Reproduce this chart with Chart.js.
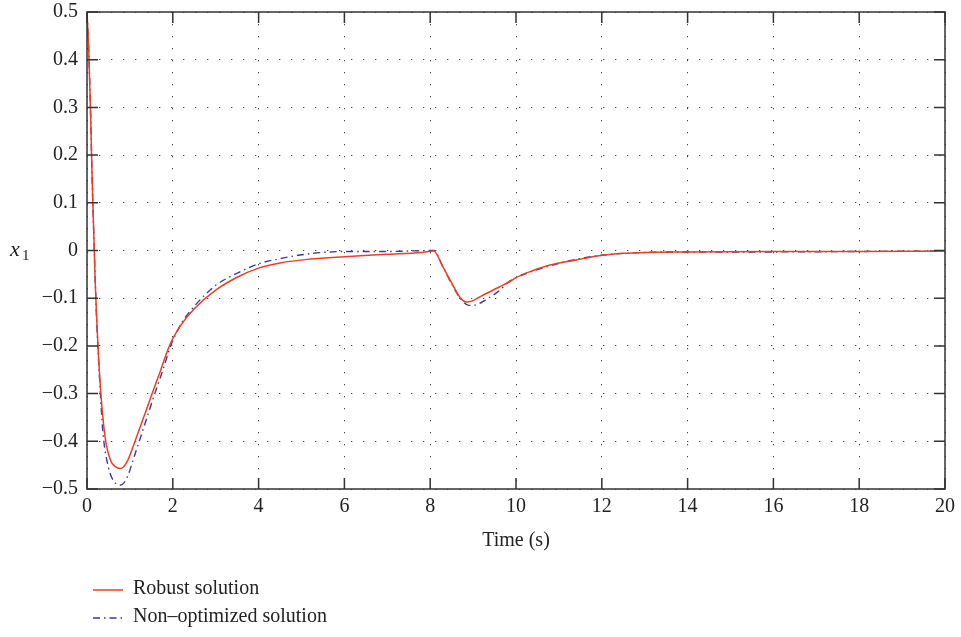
<!DOCTYPE html>
<html>
<head>
<meta charset="utf-8">
<script src="https://cdn.jsdelivr.net/npm/chart.js@4.4.0/dist/chart.umd.min.js"></script>
<style>
  html, body { margin: 0; padding: 0; background: #fff; }
  #wrap { width: 961px; height: 637px; }
</style>
</head>
<body>
<div id="wrap"><canvas id="c" width="961" height="637"></canvas></div>
<script>
// x1 response, robust design (red)
const robustT = [0, 0.04, 0.08, 0.12, 0.17, 0.19, 0.22, 0.3, 0.42, 0.55, 0.66, 0.77, 0.85, 0.95, 1.01, 1.12, 1.3, 1.51, 1.7, 1.93, 2.2, 2.5, 3.0, 3.5, 4.0, 4.5, 5.2, 6.0, 7.0, 7.8, 8.08, 8.3, 8.5, 8.7, 8.85, 9.0, 9.2, 9.6, 9.84, 10.0, 10.4, 10.77, 11.4, 11.93, 12.5, 13.0, 14.0, 16.0, 18.0, 20.0];
const robustX1 = [0.5, 0.42, 0.3, 0.15, 0.0, -0.063, -0.13, -0.27, -0.39, -0.44, -0.453, -0.457, -0.454, -0.44, -0.427, -0.40, -0.355, -0.302, -0.255, -0.198, -0.155, -0.122, -0.083, -0.056, -0.037, -0.026, -0.018, -0.013, -0.008, -0.004, -0.001, -0.035, -0.068, -0.099, -0.108, -0.105, -0.095, -0.077, -0.066, -0.057, -0.042, -0.031, -0.02, -0.011, -0.006, -0.004, -0.003, -0.002, -0.002, -0.001];

// x1 response, non-optimized design (blue dash-dot)
const plainT = [0, 0.04, 0.08, 0.12, 0.17, 0.22, 0.3, 0.37, 0.5, 0.62, 0.77, 0.87, 0.97, 1.09, 1.21, 1.4, 1.58, 1.77, 1.95, 2.2, 2.5, 3.0, 3.4, 4.0, 4.56, 5.0, 5.5, 6.0, 7.0, 8.08, 8.3, 8.5, 8.7, 8.9, 9.1, 9.3, 9.6, 9.84, 10.0, 10.5, 11.0, 11.5, 12.0, 13.0, 14.0, 16.0, 18.0, 20.0];
const plainX1 = [0.5, 0.42, 0.3, 0.15, 0.0, -0.135, -0.28, -0.38, -0.455, -0.483, -0.492, -0.486, -0.468, -0.435, -0.402, -0.35, -0.30, -0.25, -0.2, -0.153, -0.117, -0.073, -0.052, -0.028, -0.016, -0.009, -0.004, -0.002, -0.002, 0.0, -0.035, -0.07, -0.1, -0.115, -0.113, -0.103, -0.085, -0.065, -0.057, -0.04, -0.027, -0.017, -0.01, -0.004, -0.003, -0.003, -0.002, -0.001];

const seriesNames = ['Robust solution', 'Non\u2013optimized solution'];
const xTicks = [0, 2, 4, 6, 8, 10, 12, 14, 16, 18, 20];
const yTicks = [-0.5, -0.4, -0.3, -0.2, -0.1, 0, 0.1, 0.2, 0.3, 0.4, 0.5];
const yTickLabels = ['\u22120.5', '\u22120.4', '\u22120.3', '\u22120.2', '\u22120.1', '0', '0.1', '0.2', '0.3', '0.4', '0.5'];
const xTitle = 'Time (s)';

const serif = 'Liberation Serif';
const ink = '#222';
const redColor = '#ef3d25';
const blueColor = '#3a3a9c';
const blueDash = [7, 4, 1.5, 4];

function points(ts, vs) {
  return ts.map((t, i) => ({ x: t, y: vs[i] }));
}

// box, inward ticks, y label and legend, drawn on top like matlab does
const frame = {
  id: 'frame',
  afterDatasetsDraw(chart) {
    const { ctx, chartArea: a, scales } = chart;
    ctx.save();
    ctx.strokeStyle = '#333';
    ctx.lineWidth = 1.5;
    ctx.strokeRect(a.left, a.top, a.right - a.left, a.bottom - a.top);
    const tl = 11;
    ctx.beginPath();
    xTicks.forEach(v => {
      const px = scales.x.getPixelForValue(v);
      ctx.moveTo(px, a.bottom); ctx.lineTo(px, a.bottom - tl);
      ctx.moveTo(px, a.top); ctx.lineTo(px, a.top + tl);
    });
    yTicks.forEach(v => {
      const py = scales.y.getPixelForValue(v);
      ctx.moveTo(a.left, py); ctx.lineTo(a.left + tl, py);
      ctx.moveTo(a.right, py); ctx.lineTo(a.right - tl, py);
    });
    ctx.stroke();

    // y axis label: italic x with subscript 1
    ctx.fillStyle = ink;
    ctx.textBaseline = 'alphabetic';
    ctx.textAlign = 'left';
    ctx.font = 'italic 22px "' + serif + '"';
    ctx.fillText('x', 10, 256);
    ctx.font = '15px "' + serif + '"';
    ctx.fillText('1', 22, 260);

    // legend
    const rows = [
      { y: 590, color: redColor, dash: [], width: 1.5 },
      { y: 618, color: blueColor, dash: blueDash, width: 1.4 }
    ];
    rows.forEach((r, i) => {
      ctx.beginPath();
      ctx.setLineDash(r.dash);
      ctx.strokeStyle = r.color;
      ctx.lineWidth = r.width;
      ctx.moveTo(93, r.y); ctx.lineTo(123, r.y);
      ctx.stroke();
      ctx.setLineDash([]);
      ctx.fillStyle = ink;
      ctx.font = '20px "' + serif + '"';
      ctx.textBaseline = 'middle';
      ctx.fillText(seriesNames[i], 133, r.y - 1);
    });
    ctx.restore();
  }
};

const gridOpts = { color: '#444', lineWidth: 1, drawTicks: false };
const dotted = { display: false, dash: [1.3, 10.7] };

new Chart(document.getElementById('c'), {
  type: 'line',
  data: {
    datasets: [
      {
        label: seriesNames[0],
        data: points(robustT, robustX1),
        borderColor: redColor,
        borderWidth: 1.5,
        pointRadius: 0,
        cubicInterpolationMode: 'monotone',
        order: 1
      },
      {
        label: seriesNames[1],
        data: points(plainT, plainX1),
        borderColor: blueColor,
        borderWidth: 1.4,
        borderDash: blueDash,
        pointRadius: 0,
        cubicInterpolationMode: 'monotone',
        order: 2
      }
    ]
  },
  options: {
    responsive: false,
    devicePixelRatio: 1,
    animation: false,
    layout: { padding: { left: 0, right: 14, top: 0, bottom: 84 } },
    plugins: { legend: { display: false }, tooltip: { enabled: false } },
    scales: {
      x: {
        type: 'linear',
        min: 0,
        max: 20,
        afterBuildTicks: s => { s.ticks = xTicks.map(v => ({ value: v })); },
        afterFit: s => { s.height = 64; },
        ticks: { font: { family: serif, size: 20 }, color: ink, padding: 6, maxRotation: 0, autoSkip: false },
        grid: gridOpts,
        border: dotted,
        title: { display: true, text: xTitle, font: { family: serif, size: 20 }, color: ink, padding: { top: 0, bottom: 0 } }
      },
      y: {
        type: 'linear',
        min: -0.5,
        max: 0.5,
        afterBuildTicks: s => { s.ticks = yTicks.map(v => ({ value: v })); },
        afterFit: s => { s.width = 87; s.paddingTop = 12; s.paddingBottom = 0; },
        ticks: {
          font: { family: serif, size: 20 },
          color: ink,
          padding: 9,
          autoSkip: false,
          callback: v => yTickLabels[yTicks.findIndex(t => Math.abs(t - v) < 1e-9)]
        },
        grid: gridOpts,
        border: dotted
      }
    }
  },
  plugins: [frame]
});
</script>
</body>
</html>
